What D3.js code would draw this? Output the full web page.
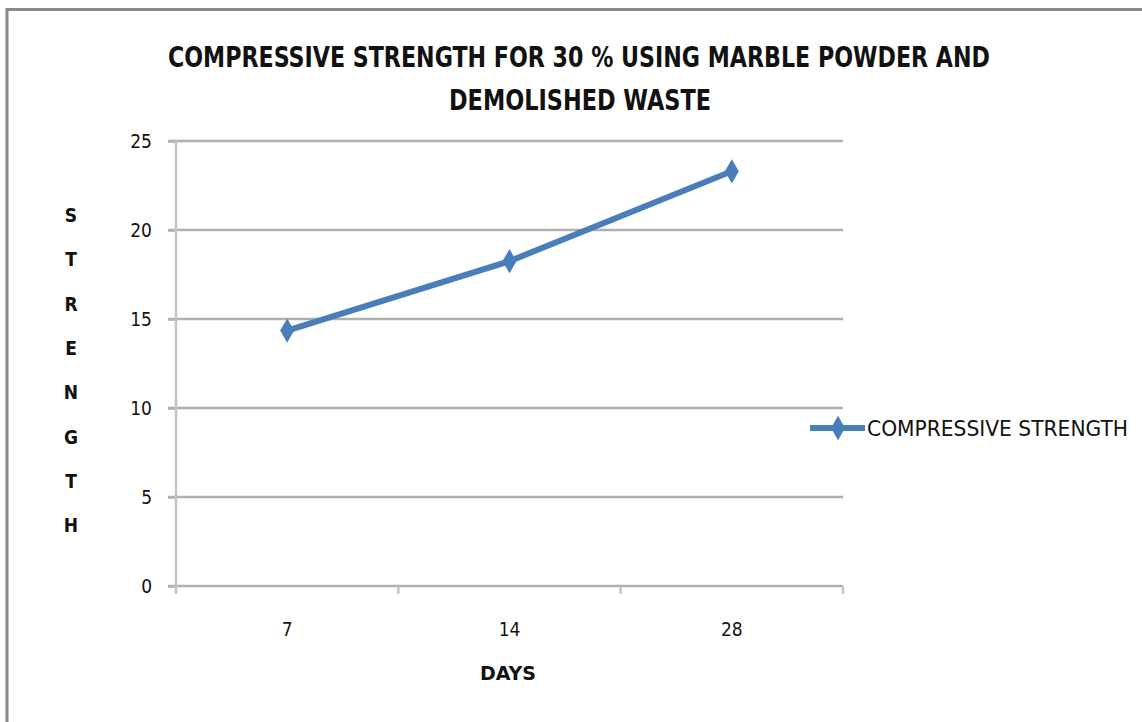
<!DOCTYPE html>
<html><head><meta charset="utf-8">
<script src="https://cdn.jsdelivr.net/npm/d3@7"></script>
<style>
html,body{margin:0;padding:0;background:#fff;}
svg{display:block;}
text{font-family:"DejaVu Sans Condensed","Liberation Sans Narrow","Roboto",sans-serif;fill:#111;}
</style></head>
<body><svg id="c" width="1142" height="722"></svg>
<script>
const categories = ["7", "14", "28"];
const strength = [14.35, 18.25, 23.3];
const yTicks = [0, 5, 10, 15, 20, 25];
const titleLines = ["COMPRESSIVE STRENGTH FOR 30 % USING MARBLE POWDER AND", "DEMOLISHED WASTE"];
const seriesName = "COMPRESSIVE STRENGTH";
const xTitle = "DAYS";
const yTitle = "STRENGTH";

const svg = d3.select("#c");
// chart frame
svg.append("path").attr("d","M7,722 V9.5 H1142").attr("fill","none").attr("stroke","#8a8a8a").attr("stroke-width",3);

const m = {l:176, r:843, t:141, b:586};
const x = d3.scaleBand().domain(categories).range([m.l, m.r]);
const y = d3.scaleLinear().domain([0,25]).range([m.b, m.t]);

// gridlines
svg.append("g").selectAll("line").data(yTicks).join("line")
  .attr("x1", m.l-8).attr("x2", m.r).attr("y1", d=>y(d)).attr("y2", d=>y(d))
  .attr("stroke", "#b0b0b0").attr("stroke-width", 2.5);

// y axis
const ya = svg.append("g").attr("transform",`translate(${m.l},0)`)
  .call(d3.axisLeft(y).tickValues(yTicks).tickSize(8).tickPadding(16));
ya.select(".domain").remove();
ya.append("line").attr("x1",0).attr("x2",0).attr("y1",m.t).attr("y2",m.b+7).attr("stroke","#c4c4c4").attr("stroke-width",2.5);
ya.selectAll(".tick line").attr("stroke","#b0b0b0").attr("stroke-width",2.5);
ya.selectAll(".tick text").attr("font-size",19).attr("fill","#111");

// x axis
const xa = svg.append("g").attr("transform",`translate(0,${m.b})`)
  .call(d3.axisBottom(x).tickSize(0).tickPadding(37));
xa.select(".domain").remove();
xa.selectAll(".tick text").attr("font-size",19).attr("fill","#111");
const bounds = categories.map(c=>x(c)).concat([x(categories[categories.length-1])+x.bandwidth()]);
svg.append("g").selectAll("line").data(bounds).join("line")
  .attr("x1",d=>d).attr("x2",d=>d).attr("y1",m.b).attr("y2",m.b+8)
  .attr("stroke","#c4c4c4").attr("stroke-width",2.5);

// series line
const cx = d=>x(d)+x.bandwidth()/2;
const pts = categories.map((c,i)=>[cx(c), y(strength[i])]);
svg.append("path").datum(pts).attr("d", d3.line())
  .attr("fill","none").attr("stroke","#4a7ebb").attr("stroke-width",6).attr("stroke-linejoin","round");
const diamond = d3.symbol().type(d3.symbolDiamond).size(170);
svg.append("g").selectAll("path").data(pts).join("path")
  .attr("transform", d=>`translate(${d[0]},${d[1]})`).attr("d", diamond).attr("fill","#4a7ebb");

// title
svg.append("text").attr("x",579).attr("y",67).attr("text-anchor","middle").attr("font-size",28).attr("font-weight","bold")
  .attr("textLength",822).attr("lengthAdjust","spacingAndGlyphs").text(titleLines[0]);
svg.append("text").attr("x",580).attr("y",110).attr("text-anchor","middle").attr("font-size",28).attr("font-weight","bold")
  .attr("textLength",262).attr("lengthAdjust","spacingAndGlyphs").text(titleLines[1]);

// x title
svg.append("text").attr("x",508).attr("y",680).attr("text-anchor","middle").attr("font-size",20).attr("font-weight","bold")
  .attr("textLength",56).attr("lengthAdjust","spacingAndGlyphs").text(xTitle);

// y title stacked letters
svg.append("g").selectAll("text").data(yTitle.split("")).join("text")
  .attr("x",71).attr("y",(d,i)=>222+i*44.3).attr("text-anchor","middle")
  .attr("font-size",19).attr("font-weight","bold").text(d=>d);

// legend
const lg = svg.append("g");
lg.append("line").attr("x1",810).attr("x2",865).attr("y1",428).attr("y2",428).attr("stroke","#4a7ebb").attr("stroke-width",6);
lg.append("path").attr("transform","translate(838,428)").attr("d",diamond).attr("fill","#4a7ebb");
lg.append("text").attr("x",867).attr("y",436).attr("font-size",21)
  .attr("textLength",261).attr("lengthAdjust","spacingAndGlyphs").text(seriesName);
</script></body></html>
